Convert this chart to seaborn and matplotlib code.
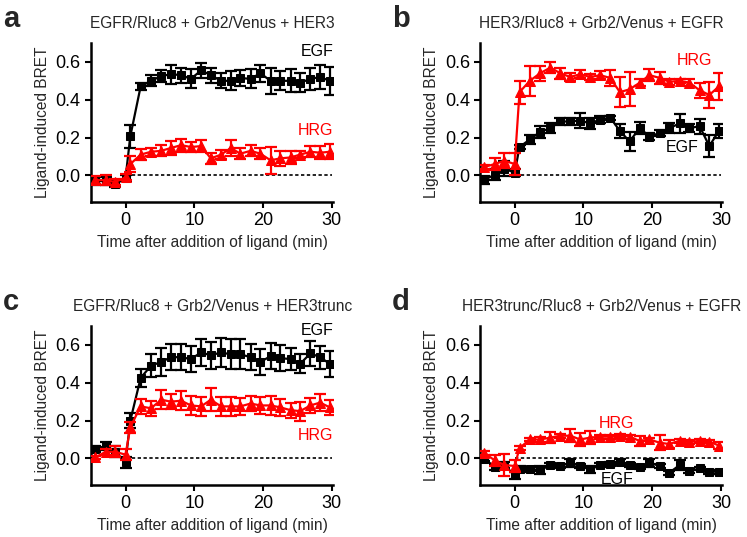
import numpy as np
import matplotlib
matplotlib.use("Agg")
import matplotlib.pyplot as plt
import seaborn as sns

# time points (min) shared by all panels
time = [-4.4, -2.9, -1.5, 0.0, 0.7, 2.2, 3.7, 5.2, 6.6, 8.1, 9.5, 11.0, 12.4,
        13.9, 15.3, 16.7, 18.2, 19.6, 21.1, 22.5, 24.0, 25.4, 26.9, 28.3, 29.7]

# panel a: EGFR/Rluc8 + Grb2/Venus + HER3
a_egf = [-0.03, -0.03, -0.045, -0.015, 0.207, 0.47, 0.50, 0.525, 0.535, 0.53, 0.51, 0.555, 0.53,
         0.50, 0.50, 0.515, 0.51, 0.54, 0.50, 0.50, 0.50, 0.49, 0.51, 0.52, 0.50]
a_egf_err = [0.02, 0.02, 0.015, 0.015, 0.06, 0.02, 0.03, 0.03, 0.05, 0.04, 0.05, 0.04, 0.04,
             0.04, 0.05, 0.04, 0.05, 0.045, 0.07, 0.05, 0.06, 0.05, 0.06, 0.065, 0.075]
a_hrg = [-0.025, -0.025, -0.035, -0.01, 0.06, 0.11, 0.125, 0.13, 0.145, 0.16, 0.15, 0.155, 0.09,
         0.11, 0.145, 0.115, 0.13, 0.115, 0.08, 0.09, 0.095, 0.11, 0.125, 0.12, 0.125]
a_hrg_err = [0.02, 0.025, 0.015, 0.015, 0.04, 0.03, 0.02, 0.03, 0.035, 0.035, 0.025, 0.03, 0.03,
             0.025, 0.04, 0.03, 0.03, 0.03, 0.07, 0.04, 0.035, 0.02, 0.03, 0.035, 0.04]

# panel b: HER3/Rluc8 + Grb2/Venus + EGFR
b_egf = [-0.023, 0.004, 0.035, 0.015, 0.15, 0.19, 0.23, 0.25, 0.285, 0.285, 0.29, 0.275, 0.295,
         0.305, 0.235, 0.18, 0.25, 0.205, 0.225, 0.25, 0.275, 0.25, 0.26, 0.155, 0.235]
b_egf_err = [0.02, 0.03, 0.04, 0.02, 0.01, 0.025, 0.03, 0.025, 0.02, 0.02, 0.04, 0.03, 0.02,
             0.01, 0.035, 0.05, 0.03, 0.02, 0.015, 0.025, 0.05, 0.02, 0.04, 0.06, 0.035]
b_hrg = [0.045, 0.06, 0.078, 0.06, 0.44, 0.50, 0.54, 0.57, 0.54, 0.52, 0.535, 0.52, 0.53,
         0.515, 0.44, 0.455, 0.49, 0.53, 0.515, 0.495, 0.50, 0.49, 0.45, 0.425, 0.47]
b_hrg_err = [0.01, 0.03, 0.04, 0.06, 0.06, 0.08, 0.04, 0.03, 0.03, 0.02, 0.02, 0.015, 0.02,
             0.04, 0.08, 0.09, 0.02, 0.03, 0.03, 0.015, 0.01, 0.02, 0.04, 0.07, 0.07]

# panel c: EGFR/Rluc8 + Grb2/Venus + HER3trunc
c_egf = [0.048, 0.067, 0.035, -0.02, 0.20, 0.425, 0.49, 0.51, 0.535, 0.535, 0.525, 0.56, 0.545,
         0.56, 0.55, 0.55, 0.535, 0.51, 0.54, 0.53, 0.525, 0.50, 0.555, 0.535, 0.50]
c_egf_err = [0.015, 0.02, 0.03, 0.03, 0.04, 0.045, 0.06, 0.075, 0.07, 0.07, 0.07, 0.07, 0.07,
             0.075, 0.08, 0.08, 0.07, 0.07, 0.07, 0.07, 0.06, 0.05, 0.065, 0.06, 0.07]
c_hrg = [0.005, 0.035, 0.035, 0.02, 0.165, 0.275, 0.265, 0.31, 0.30, 0.305, 0.28, 0.275, 0.31,
         0.275, 0.275, 0.275, 0.29, 0.28, 0.28, 0.27, 0.255, 0.25, 0.28, 0.295, 0.27]
c_hrg_err = [0.01, 0.015, 0.03, 0.03, 0.03, 0.04, 0.04, 0.05, 0.04, 0.05, 0.05, 0.05, 0.06,
             0.05, 0.05, 0.045, 0.04, 0.045, 0.05, 0.045, 0.04, 0.05, 0.04, 0.045, 0.04]

# panel d: HER3trunc/Rluc8 + Grb2/Venus + EGFR
d_egf = [-0.003, -0.045, -0.035, -0.09, -0.057, -0.055, -0.062, -0.035, -0.04, -0.023, -0.04, -0.058, -0.035,
         -0.03, -0.02, -0.035, -0.045, -0.023, -0.04, -0.075, -0.035, -0.068, -0.053, -0.07, -0.07]
d_egf_err = [0.01, 0.015, 0.015, 0.02, 0.015, 0.01, 0.02, 0.01, 0.01, 0.02, 0.01, 0.02, 0.01,
             0.01, 0.015, 0.01, 0.01, 0.02, 0.01, 0.01, 0.025, 0.01, 0.01, 0.01, 0.01]
d_hrg = [0.027, -0.01, -0.035, -0.04, 0.055, 0.10, 0.10, 0.11, 0.12, 0.12, 0.10, 0.11, 0.115,
         0.115, 0.12, 0.115, 0.092, 0.10, 0.083, 0.076, 0.094, 0.085, 0.094, 0.089, 0.068]
d_hrg_err = [0.01, 0.03, 0.06, 0.03, 0.01, 0.01, 0.015, 0.03, 0.01, 0.035, 0.035, 0.035, 0.01,
             0.01, 0.01, 0.01, 0.025, 0.01, 0.04, 0.02, 0.01, 0.01, 0.01, 0.01, 0.02]

panels = [
    ("a", "EGFR/Rluc8 + Grb2/Venus + HER3", a_egf, a_egf_err, a_hrg, a_hrg_err,
     (30.2, 0.655, "right"), (30.2, 0.238, "right")),
    ("b", "HER3/Rluc8 + Grb2/Venus + EGFR", b_egf, b_egf_err, b_hrg, b_hrg_err,
     (24.3, 0.149, "center"), (26.2, 0.606, "center")),
    ("c", "EGFR/Rluc8 + Grb2/Venus + HER3trunc", c_egf, c_egf_err, c_hrg, c_hrg_err,
     (30.2, 0.676, "right"), (30.2, 0.12, "right")),
    ("d", "HER3trunc/Rluc8 + Grb2/Venus + EGFR", d_egf, d_egf_err, d_hrg, d_hrg_err,
     (14.9, -0.11, "center"), (14.8, 0.187, "center")),
]

sns.set_style("ticks")
plt.rcParams['font.family'] = ['Liberation Sans', 'DejaVu Sans']

fig = plt.figure(figsize=(7.47, 5.37), dpi=100)
# axes boxes in figure fractions: left, bottom, width, height
boxes = [(0.122, 0.624, 0.324, 0.296), (0.643, 0.624, 0.324, 0.296),
         (0.122, 0.097, 0.324, 0.296), (0.643, 0.097, 0.324, 0.296)]

for (letter, title, egf, egf_err, hrg, hrg_err, egf_lab, hrg_lab), box in zip(panels, boxes):
    ax = fig.add_axes(box)
    ax.hlines(0, 0, 30, colors="black", linestyles=(0, (2, 1.5)), linewidth=1.2, zorder=1)

    ax.errorbar(time, egf, yerr=egf_err, fmt="none", ecolor="black", elinewidth=1.6,
                capsize=4, capthick=1.6, zorder=2)
    sns.lineplot(x=time, y=egf, color="black", marker="s", markersize=6,
                 markeredgecolor="black", linewidth=1.6, ax=ax, zorder=3)
    ax.errorbar(time, hrg, yerr=hrg_err, fmt="none", ecolor="red", elinewidth=1.6,
                capsize=4, capthick=1.6, zorder=4)
    sns.lineplot(x=time, y=hrg, color="red", marker="^", markersize=6.5,
                 markeredgecolor="red", linewidth=1.6, ax=ax, zorder=5)

    ax.text(egf_lab[0], egf_lab[1], "EGF", color="black", fontsize=11.5,
            ha=egf_lab[2], va="center")
    ax.text(hrg_lab[0], hrg_lab[1], "HRG", color="red", fontsize=11.5,
            ha=hrg_lab[2], va="center")

    ax.set_xlim(-5, 30.2)
    ax.set_ylim(-0.14, 0.70)
    ax.set_xticks([0, 10, 20, 30])
    ax.set_yticks([0.0, 0.2, 0.4, 0.6])
    ax.set_yticklabels(["0.0", "0.2", "0.4", "0.6"])
    ax.tick_params(labelsize=13, width=1.5, length=4, color="black", labelcolor="black")
    for side in ["left", "bottom"]:
        ax.spines[side].set_linewidth(1.8)
        ax.spines[side].set_color("black")
    sns.despine(ax=ax)
    ax.set_xlabel("Time after addition of ligand (min)", fontsize=11.2)
    ax.set_ylabel("Ligand-induced BRET", fontsize=11.2)
    ax.set_title(title, fontsize=11.2, pad=11)

    bx = box[0] - 0.118
    fig.text(bx, box[1] + box[3] + 0.045, letter, fontsize=21, fontweight="bold", va="center")

fig.savefig("out.png", dpi=100)
